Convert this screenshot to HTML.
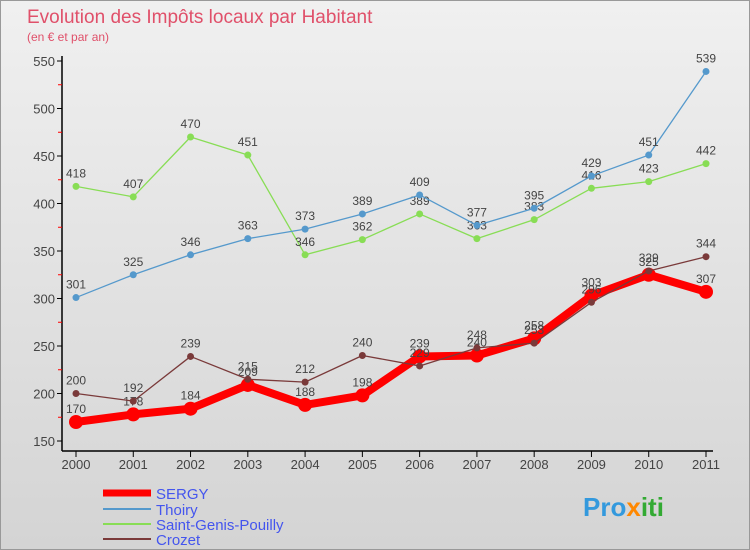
<!DOCTYPE html>
<html><head><meta charset="utf-8"><style>
body{margin:0}
#c{width:750px;height:550px;position:relative;background:linear-gradient(#f0f0f0,#d4d4d4);font-family:"Liberation Sans",sans-serif;overflow:hidden;box-sizing:border-box;border:1px solid #999}
</style></head><body>
<div id="c">
<svg id="s" width="750" height="550" style="position:absolute;left:0;top:0" font-family="Liberation Sans, sans-serif">
<text x="26" y="22" font-size="19" fill="#e0506a">Evolution des Impôts locaux par Habitant</text>
<text x="26" y="40" font-size="12" fill="#e0506a">(en € et par an)</text>
<g id="axes"></g><g id="series"></g>
<g>
<line x1="102" y1="492" x2="150" y2="492" stroke="#f00" stroke-width="7"/>
<text x="155" y="498" font-size="15" fill="#4455ee">SERGY</text>
<line x1="102" y1="508" x2="150" y2="508" stroke="#5599cc" stroke-width="2"/>
<text x="155" y="514" font-size="15" fill="#4455ee">Thoiry</text>
<line x1="102" y1="523" x2="150" y2="523" stroke="#88dd55" stroke-width="2"/>
<text x="155" y="529" font-size="15" fill="#4455ee">Saint-Genis-Pouilly</text>
<line x1="102" y1="538" x2="150" y2="538" stroke="#7a3a3a" stroke-width="2"/>
<text x="155" y="544" font-size="15" fill="#4455ee">Crozet</text>
</g>
<text x="582" y="515" font-size="26" font-weight="bold" fill="#3399dd">Pro<tspan fill="#ff8800">x</tspan><tspan fill="#33aa33">iti</tspan></text>
</svg>
</div>
<script>
const years=["2000","2001","2002","2003","2004","2005","2006","2007","2008","2009","2010","2011"];
const yTicks=[150,200,250,300,350,400,450,500,550];
const sergy=[170,178,184,209,188,198,239,240,258,303,325,307];
const thoiry=[301,325,346,363,373,389,409,377,395,429,451,539];
const sgp=[418,407,470,451,346,362,389,363,383,416,423,442];
const crozet=[200,192,239,215,212,240,229,248,253,296,329,344];
const NS="http://www.w3.org/2000/svg";
const X=i=>75+i*(630/11), Y=v=>440-(v-150)*0.95;
function mk(t,a,p){const e=document.createElementNS(NS,t);for(const k in a)e.setAttribute(k,a[k]);p.appendChild(e);return e;}
const ax=document.getElementById('axes');
let e=mk('line',{x1:61,y1:55,x2:61,y2:450,stroke:'#000','stroke-width':1.5},ax);


e=mk('line',{x1:61,y1:450,x2:712,y2:450,stroke:'#000','stroke-width':1.5},ax);


yTicks.forEach((v,i)=>{
 mk('line',{x1:56,y1:Y(v),x2:61,y2:Y(v),stroke:'#000'},ax);
 if(i<yTicks.length-1)mk('line',{x1:57,y1:Y(v+25),x2:61,y2:Y(v+25),stroke:'#f00'},ax);
 const t=mk('text',{x:54,y:Y(v)+5,'font-size':13,fill:'#444','text-anchor':'end'},ax);
 t.textContent=v;
 
 
});
years.forEach((y,i)=>{
 mk('line',{x1:X(i),y1:450,x2:X(i),y2:456,stroke:'#000'},ax);
 const t=mk('text',{x:X(i),y:468,'font-size':13,fill:'#444','text-anchor':'middle'},ax);
 t.textContent=y;
 
 
});
const sg=document.getElementById('series');
function draw(data,color,w,r,name){
 const g=mk('g',{},sg);
 
 
 const p=mk('polyline',{points:data.map((v,i)=>X(i)+','+Y(v)).join(' '),fill:'none',stroke:color,'stroke-width':w,'stroke-linejoin':'round'},g);
 
 
 data.forEach((v,i)=>{
  const c=mk('circle',{cx:X(i),cy:Y(v),r:r,fill:color},g);
  
  
  const t=mk('text',{x:X(i),y:Y(v)-9,'font-size':12,fill:'#444','text-anchor':'middle'},g);
  t.textContent=v;
  
  
 });
}
draw(sgp,'#88dd55',1.3,3.5,'saint-genis-pouilly');
draw(thoiry,'#5599cc',1.3,3.5,'thoiry');
draw(sergy,'#f00',8,7,'sergy');
draw(crozet,'#7a3a3a',1.3,3.5,'crozet');
</script>
</body></html>
